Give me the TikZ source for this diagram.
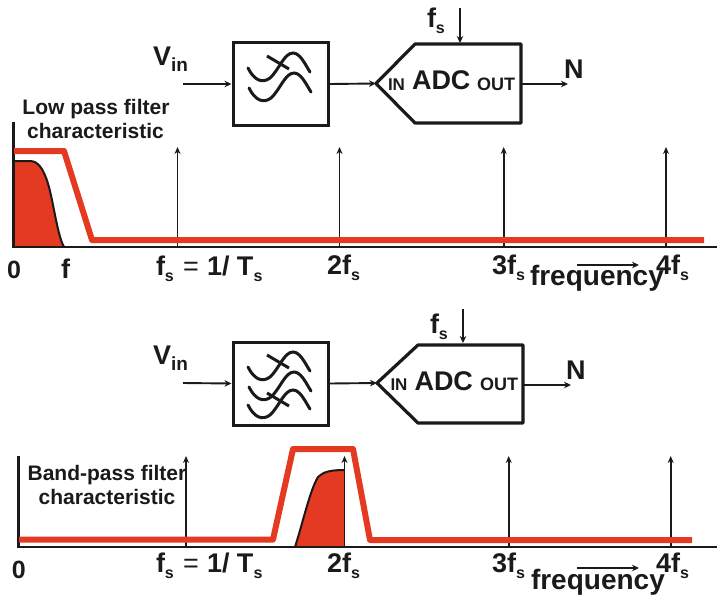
\documentclass[tikz,border=0pt]{standalone}
\usepackage{fontspec}
\setmainfont{Liberation Sans}[BoldFont={Liberation Sans Bold}]
\usetikzlibrary{arrows.meta}
\definecolor{redf}{HTML}{E53A22}
\definecolor{ink}{HTML}{1A1A1A}
\newcommand\fsz[1]{\fontsize{#1}{#1}\selectfont}
\newcommand\sbs[1]{\raisebox{-6.5pt}{\fsz{16}#1}}
\newcommand\wave[2]{\draw[wavy,shift={(#1,#2)}] (248,68) .. controls (254,80) and (262,84) .. (270,78) .. controls (279,70) and (284,53) .. (293,53) .. controls (300,53) and (305,64) .. (310,72);}
\newcommand\cross[2]{\draw[wavy,shift={(#1,#2)},line cap=butt] (267,56) -- (289,69);}
\tikzset{
  x=1pt,y=-1pt,
  txt/.style={anchor=base west,inner sep=0pt,outer sep=0pt,text=ink,font=\bfseries\fsz{27}},
  captxt/.style={anchor=base,inner sep=0pt,outer sep=0pt,text=ink,font=\bfseries\fsz{21},align=center},
  blockbox/.style={draw=ink,line width=3pt,minimum width=95pt,minimum height=83pt,inner sep=0pt},
  adcline/.style={draw=ink,line width=3.2pt,line join=round},
  wavy/.style={draw=ink,line width=3pt,line cap=round},
  conn/.style={draw=ink,line width=1.9pt,-{Stealth[length=7pt,width=6.5pt]}},
  impulse/.style={draw=ink,line width=1.6pt,-{Stealth[length=7pt,width=6pt]}},
  axisline/.style={draw=ink,line width=2.2pt},
  redline/.style={draw=redf,line width=6pt,line join=round},
}
\begin{document}
\begin{tikzpicture}
\useasboundingbox (0,0) rectangle (717,598);
% ---------- top chain
\node[blockbox] (f1) at (280.5,84) {};
\wave{0}{0}\cross{0}{0}\wave{1}{20}
\coordinate (a1tip) at (376,83.5);
\coordinate (a1tl) at (415,44);
\coordinate (a1tr) at (521,44);
\coordinate (a1br) at (521,123);
\coordinate (a1bl) at (415,123);
\coordinate (a1clk) at (460,43);
\coordinate (a1out) at (521,84);
\draw[adcline] (a1tip) -- (a1tl) -- (a1tr) -- (a1br) -- (a1bl) -- cycle;
\node[txt,font=\bfseries\fsz{17}] (in1) at (388,90) {IN};
\node[txt,font=\bfseries\fsz{27}] (adc1) at (412,89) {ADC};
\node[txt,font=\bfseries\fsz{18}] (out1) at (477,90) {OUT};
\node[txt,font=\bfseries\fsz{27}] (v1) at (153,65) {V\raisebox{-6.5pt}{\fsz{19}in}};
\coordinate (v1s) at (183,84);
\draw[conn] (v1s) -- (f1.west);
\draw[conn] (f1.east) -- (a1tip);
\coordinate (clk1) at (460,8);
\draw[conn] (clk1) -- (a1clk);
\node[txt] (fs1) at (427,27) {f\sbs{s}};
\coordinate (n1e) at (568,84);
\draw[conn] (a1out) -- (n1e);
\node[txt] (n1) at (564,78) {N};
% ---------- top spectrum
\node[captxt] (cap1) at (96,114) {Low pass filter};
\node[captxt] (cap1b) at (95.5,138.5) {characteristic};
\fill[redf] (14,247) -- (14,161) -- (30,161) .. controls (45,161) and (50,190) .. (54,210) .. controls (57,225) and (60,240) .. (64,247) -- cycle;
\draw[ink,line width=2pt] (14,161) -- (30,161) .. controls (45,161) and (50,190) .. (54,210) .. controls (57,225) and (60,240) .. (64,247);
\coordinate (o1) at (13.5,247);
\coordinate (y1) at (13.5,122);
\coordinate (x1) at (717,247);
\draw[axisline] (y1) -- (o1) -- (x1);
\foreach \n/\x in {a/177.5,b/339.5,c/503.7,d/666}{
  \coordinate (i1\n b) at (\x,247);
  \coordinate (i1\n t) at (\x,147);
  \draw[impulse] (i1\n b) -- (i1\n t);
}
\draw[redline] (14,151) -- (64,151) -- (92,240) -- (704,240);
\node[txt,font=\bfseries\fsz{25}] (z1) at (7,278) {0};
\node[txt] (f1l) at (61,278) {f};
\node[txt] (fsa) at (156,275) {f\sbs{s}};
\node[txt,font=\fsz{27}] (eq1) at (183,275) {=};
\node[txt] (ts1) at (207,275) {1/ T\sbs{s}};
\node[txt] (f2a) at (327,274) {2f\sbs{s}};
\node[txt] (f3a) at (492,274) {3f\sbs{s}};
\node[txt] (f4a) at (656,274) {4f\sbs{s}};
\node[txt,font=\bfseries\fsz{28}] (fr1) at (530,285) {frequency};
\coordinate (ar1a) at (577,265);
\coordinate (ar1b) at (639,265);
\draw[conn] (ar1a) -- (ar1b);
% ---------- bottom chain
\node[blockbox] (f2) at (280.5,383.5) {};
\wave{0}{299}\cross{0}{299}\wave{1}{319}\wave{0}{337}\cross{0}{337}
\coordinate (a2tip) at (377,383);
\coordinate (a2tl) at (418,345);
\coordinate (a2tr) at (523,345);
\coordinate (a2br) at (523,423);
\coordinate (a2bl) at (418,423);
\coordinate (a2clk) at (463,343);
\coordinate (a2out) at (523,385);
\draw[adcline] (a2tip) -- (a2tl) -- (a2tr) -- (a2br) -- (a2bl) -- cycle;
\node[txt,font=\bfseries\fsz{17}] (in2) at (390.5,390) {IN};
\node[txt,font=\bfseries\fsz{27}] (adc2) at (414.5,390) {ADC};
\node[txt,font=\bfseries\fsz{18}] (out2) at (480,390) {OUT};
\node[txt,font=\bfseries\fsz{27}] (v2) at (153,364) {V\raisebox{-6.5pt}{\fsz{19}in}};
\coordinate (v2s) at (183,383);
\draw[conn] (v2s) -- (f2.west);
\draw[conn] (f2.east) -- (a2tip);
\coordinate (clk2) at (463,309);
\draw[conn] (clk2) -- (a2clk);
\node[txt] (fs2) at (430,333) {f\sbs{s}};
\coordinate (n2e) at (571,385);
\draw[conn] (a2out) -- (n2e);
\node[txt] (n2) at (566,379) {N};
% ---------- bottom spectrum
\fill[redf] (295,547) .. controls (303,522) and (310,490) .. (318,477) .. controls (323,472) and (330,470) .. (344,470) -- (344,547) -- cycle;
\draw[ink,line width=2pt] (295,547) .. controls (303,522) and (310,490) .. (318,477) .. controls (323,472) and (330,470) .. (344,470);
\coordinate (o2) at (18.5,547);
\coordinate (y2) at (18.5,456);
\coordinate (x2) at (717,547);
\draw[axisline] (y2) -- (o2) -- (x2);
\foreach \n/\x in {a/186,b/344.5,c/508.7,d/670.7}{
  \coordinate (i2\n b) at (\x,547);
  \coordinate (i2\n t) at (\x,456);
  \draw[impulse] (i2\n b) -- (i2\n t);
}
\draw[redline] (19,539.5) -- (273,539.5) -- (293,449) -- (353,449) -- (370,540) -- (692,540);
\node[captxt] (cap2) at (107,480) {Band-pass filter};
\node[captxt] (cap2b) at (107,504) {characteristic};
\node[txt,font=\bfseries\fsz{25}] (z2) at (12,578) {0};
\node[txt] (fsb) at (156,572) {f\sbs{s}};
\node[txt,font=\fsz{27}] (eq2) at (183,572) {=};
\node[txt] (ts2) at (207,572) {1/ T\sbs{s}};
\node[txt] (f2b) at (327,572) {2f\sbs{s}};
\node[txt] (f3b) at (492,572) {3f\sbs{s}};
\node[txt] (f4b) at (656,572) {4f\sbs{s}};
\node[txt,font=\bfseries\fsz{28}] (fr2) at (531,589) {frequency};
\coordinate (ar2a) at (577,568);
\coordinate (ar2b) at (639,568);
\draw[conn] (ar2a) -- (ar2b);
\end{tikzpicture}
\end{document}
